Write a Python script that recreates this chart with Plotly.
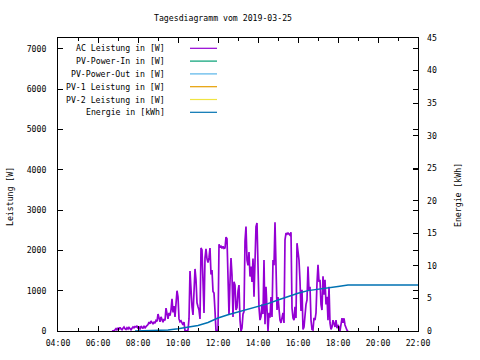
import pandas as pd
import plotly.graph_objects as go

# ---------------- data ----------------
DAY = "2019-03-25"
TITLE = "Tagesdiagramm vom 2019-03-25"

# AC power, one reading every 3 minutes starting 06:42
ac_start = "06:42"
ac_step = "3min"
ac_watts = [
    0, 0, 10, 30, 60, 20, 80, 40, 90, 50,
    30, 70, 100, 60, 40, 80, 50, 90, 60, 30,
    70, 100, 80, 110, 100, 130, 60, 110, 40, 120,
    90, 60, 130, 70, 110, 140, 160, 220, 180, 250,
    200, 170, 230, 190, 260, 240, 420, 300, 230, 350,
    280, 220, 300, 260, 570, 380, 300, 450, 380, 520,
    800, 460, 620, 350, 770, 1000, 850, 300, 230, 250,
    200, 150, 220, 0, 10, 0, 20, 300, 1490, 820,
    600, 400, 900, 1540, 1270, 700, 600, 520, 300, 2060,
    2010, 900, 450, 1810, 2040, 1790, 1700, 1820, 2060, 1400,
    1510, 980, 940, 500, 0, 0, 30, 2150, 2070, 2100,
    2050, 2100, 2050, 2060, 2330, 2290, 900, 400, 1220, 1810,
    1380, 350, 1220, 1140, 520, 580, 990, 1140, 270, 0,
    70, 420, 480, 2230, 2590, 1760, 1630, 1960, 1350, 1600,
    1220, 1800, 850, 1890, 2590, 2680, 1220, 580, 270, 360,
    660, 420, 1760, 170, 1100, 270, 0, 450, 330, 840,
    350, 1760, 1630, 2700, 1190, 520, 840, 450, 270, 200,
    330, 450, 200, 2260, 2430, 2400, 2430, 2400, 2380, 2450,
    570, 320, 270, 600, 320, 2180, 1980, 1760, 1240, 500,
    1020, 40, 100, 520, 660, 770, 1600, 1000, 1100, 270,
    40, 25, 330, 270, 450, 1190, 1640, 1220, 1270, 660,
    520, 1360, 900, 1270, 660, 850, 270, 1100, 200, 40,
    100, 270, 150, 100, 270, 70, 150, 100, 0, 150,
    320, 200, 315, 150, 80, 20, 0,
]

energy_times = ["07:51", "08:30", "09:00", "09:30", "10:00", "10:30", "11:00",
                "11:30", "12:00", "12:30", "13:00", "13:30", "14:00", "14:30",
                "15:00", "15:30", "16:00", "16:30", "17:00", "17:30", "18:00",
                "18:30", "22:00"]
energy_kwh = [0.0, 0.02, 0.05, 0.15, 0.35, 0.55, 0.85,
              1.3, 2.0, 2.5, 2.9, 3.4, 3.8, 4.2,
              4.75, 5.3, 5.8, 6.2, 6.45, 6.7, 6.85,
              7.05, 7.05]

legend_labels = ["AC Leistung in [W]", "PV-Power-In in [W]", "PV-Power-Out in [W]",
                 "PV-1 Leistung in [W]", "PV-2 Leistung in [W]", "Energie in [kWh]"]
legend_colors = ["#9400d3", "#009e73", "#56b4e9", "#e69f00", "#f0e442", "#0072b2"]

y_left_ticks = [0, 1000, 2000, 3000, 4000, 5000, 6000, 7000]
y_right_ticks = [0, 5, 10, 15, 20, 25, 30, 35, 40, 45]

# ---------------- layout geometry ----------------
W, H = 480, 360
L, R, T, B = 58, 418, 38, 331
FONT = "DejaVu Sans Mono"
FS = 8.2


def px(xpix):
    return (xpix - L) / (R - L)


def py(ypix):
    return (B - ypix) / (B - T)


ac_times = pd.date_range(f"{DAY} {ac_start}", periods=len(ac_watts), freq=ac_step)
e_times = [f"{DAY} {t}" for t in energy_times]

fig = go.Figure()
fig.add_trace(go.Scatter(x=ac_times, y=ac_watts, mode="lines",
                         line=dict(color=legend_colors[0], width=1.7),
                         yaxis="y", showlegend=False))
fig.add_trace(go.Scatter(x=e_times, y=energy_kwh, mode="lines",
                         line=dict(color=legend_colors[5], width=1.5),
                         yaxis="y2", showlegend=False))

tickfont = dict(family=FONT, size=FS, color="black")

fig.update_layout(
    width=W, height=H,
    margin=dict(l=L, r=W - R, t=T, b=H - B, pad=0),
    paper_bgcolor="white", plot_bgcolor="white",
    showlegend=False,
    font=dict(family=FONT, size=FS, color="black"),
    xaxis=dict(type="date", range=[f"{DAY} 04:00", f"{DAY} 22:00"],
               tick0=f"{DAY} 04:00", dtick=2 * 3600 * 1000, tickformat="%H:%M",
               ticks="inside", ticklen=5, tickcolor="black", mirror="ticks",
               showline=True, linecolor="black", linewidth=1,
               showgrid=False, zeroline=False, tickfont=tickfont,
               ticklabelstandoff=4,
               minor=dict(dtick=3600 * 1000, ticks="inside", ticklen=3,
                          tickcolor="black", showgrid=False)),
    yaxis=dict(range=[0, 7270], tickvals=y_left_ticks,
               ticks="inside", ticklen=5, tickcolor="black", mirror="ticks",
               showline=True, linecolor="black", linewidth=1,
               showgrid=False, zeroline=False, tickfont=tickfont,
               ticklabelstandoff=9),
    yaxis2=dict(range=[0, 45], tickvals=y_right_ticks, overlaying="y", side="right",
                ticks="inside", ticklen=5, tickcolor="black",
                showline=False, showgrid=False, zeroline=False, tickfont=tickfont,
                ticklabelstandoff=8),
)

annotations = [
    dict(text=TITLE, x=px(223), y=py(18), xref="paper", yref="paper",
         xanchor="center", yanchor="middle", showarrow=False,
         font=dict(family=FONT, size=FS)),
    dict(text="Leistung [W]", x=px(10), y=py(197), xref="paper", yref="paper",
         xanchor="center", yanchor="middle", textangle=-90, showarrow=False,
         font=dict(family=FONT, size=FS)),
    dict(text="Energie [kWh]", x=px(458), y=py(195), xref="paper", yref="paper",
         xanchor="center", yanchor="middle", textangle=-90, showarrow=False,
         font=dict(family=FONT, size=FS)),
]
shapes = []
row_y0, row_dy = 48.3, 12.8
for i, (lab, col) in enumerate(zip(legend_labels, legend_colors)):
    yy = row_y0 + i * row_dy
    annotations.append(dict(text=lab, x=px(167), y=py(yy), xref="paper", yref="paper",
                            xanchor="right", yanchor="middle", showarrow=False,
                            font=dict(family=FONT, size=FS)))
    shapes.append(dict(type="line", xref="paper", yref="paper",
                       x0=px(190), x1=px(217), y0=py(yy), y1=py(yy),
                       line=dict(color=col, width=1.2)))

fig.update_layout(annotations=annotations, shapes=shapes)
fig.write_html("out.html",
               config={"displayModeBar": False},
               post_script="document.body.style.margin='0';document.body.style.padding='0';")
